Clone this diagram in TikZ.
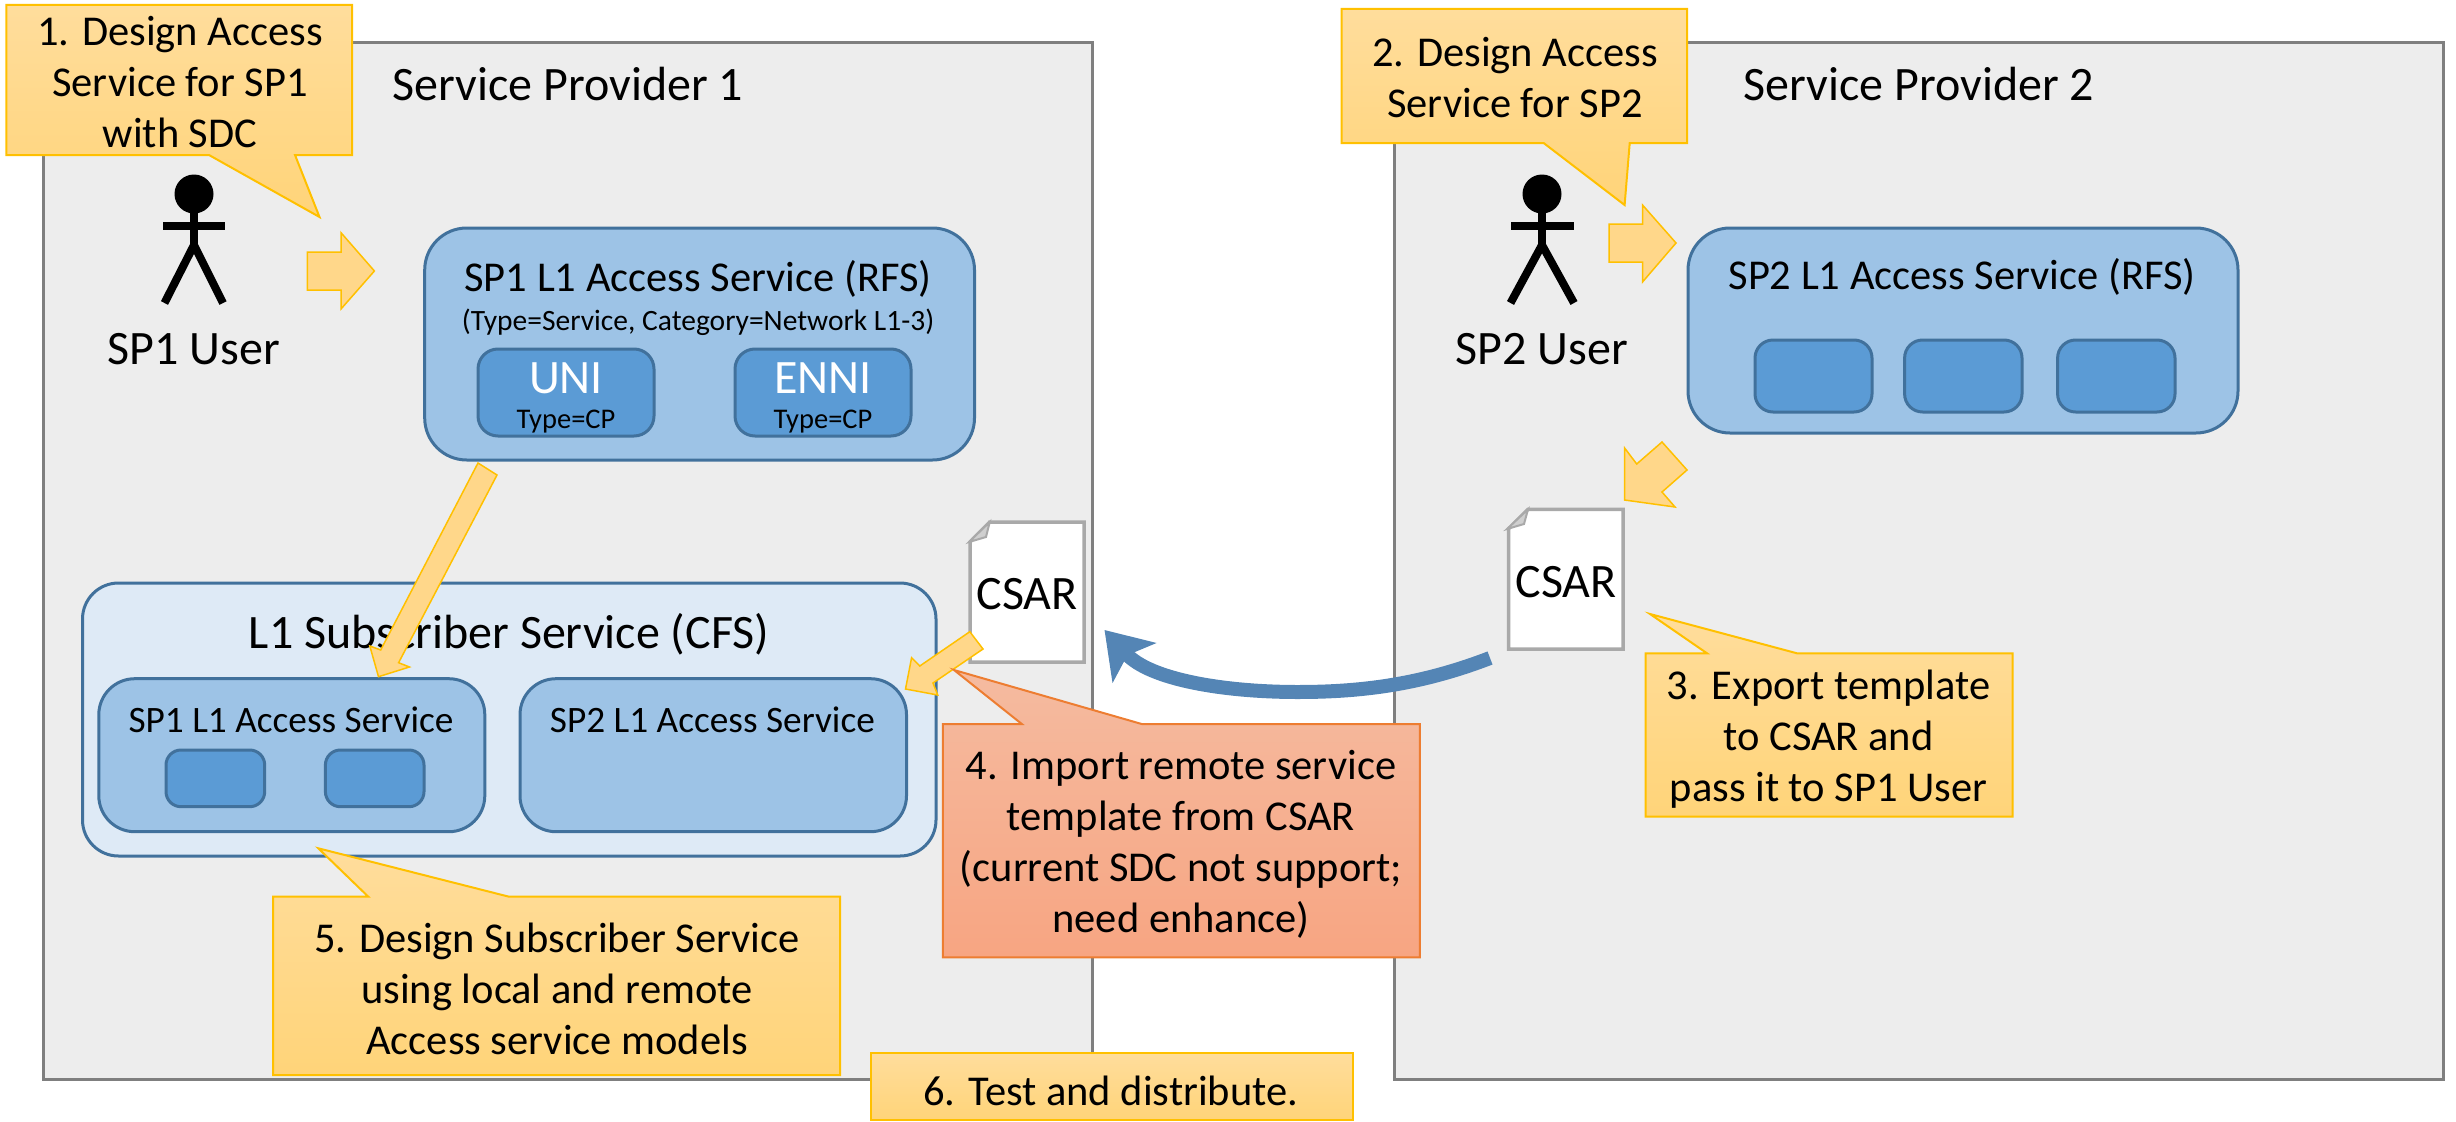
\documentclass[tikz,border=0pt]{standalone}
\usepackage{fontspec}
\setmainfont{Carlito}
\usetikzlibrary{arrows.meta,calc}
\definecolor{panelfill}{HTML}{EDEDED}
\definecolor{panelline}{HTML}{7F7F7F}
\definecolor{bluemid}{HTML}{9DC3E6}
\definecolor{bluedark}{HTML}{5B9BD5}
\definecolor{bluelight}{HTML}{DEEAF6}
\definecolor{blueedge}{HTML}{41719C}
\definecolor{yellowtop}{HTML}{FFDD9C}
\definecolor{yellowbot}{HTML}{FFD479}
\definecolor{yellowedge}{HTML}{FFC000}
\definecolor{yellowflat}{HTML}{FFD78A}
\definecolor{redtop}{HTML}{F5BBA0}
\definecolor{redbot}{HTML}{F7A582}
\definecolor{rededge}{HTML}{ED7D31}
\definecolor{flow}{HTML}{5485B5}
\definecolor{docline}{HTML}{A9A9A9}
\definecolor{docfold}{HTML}{CFCFCF}
\tikzset{
 x=1pt,y=-1pt,
 every node/.style={inner sep=0pt,outer sep=0pt,font=\fontsize{42.5}{51}\selectfont,align=center},
 panel/.style={draw=panelline,fill=panelfill,line width=3pt},
 rbox/.style={draw=blueedge,line width=3pt,rounded corners=#1},
 callout/.style={draw=yellowedge,line width=2pt,top color=yellowtop,bottom color=yellowbot,line join=miter},
 calloutred/.style={draw=rededge,line width=2pt,top color=redtop,bottom color=redbot,line join=miter},
 blockarrow/.style={draw=yellowedge,line width=1.5pt,fill=yellowflat,line join=miter},
 doc/.style={draw=docline,fill=white,line width=3.5pt,line join=miter},
 fold/.style={draw=docline,fill=docfold,line width=2pt,line join=miter},
 stick/.style={draw=black,line width=8pt},
 big/.style={font=\fontsize{48}{58}\selectfont},
 small/.style={font=\fontsize{29.5}{35}\selectfont},
 tiny/.style={font=\fontsize{28.5}{34}\selectfont},
 mid/.style={font=\fontsize{37.3}{45}\selectfont},
}
\begin{document}
\begin{tikzpicture}
\useasboundingbox (0,0) rectangle (2456,1121);
% panels
\node[panel,minimum width=1049pt,minimum height=1036pt] (sp1) at (568,561) {};
\node[panel,minimum width=1048.6pt,minimum height=1036pt] (sp2) at (1918.7,561) {};
\node[big] (sp1t) at (568,84) {Service Provider 1};
\node[big] (sp2t) at (1919,84) {Service Provider 2};
% SP1 RFS
\draw[rbox=42pt,fill=bluemid] (424.7,228) rectangle (974.5,460);
\node (rfs1t) at (698,279) {SP1 L1 Access Service (RFS)};
\node[small] (rfs1s) at (698,322) {(Type=Service, Category=Network L1-3)};
\draw[rbox=20pt,fill=bluedark] (478,349) rectangle (654,436);
\draw[rbox=20pt,fill=bluedark] (735,349) rectangle (911,436);
\node[big,text=white] (uni) at (566,378) {UNI};
\node[big,text=white] (enni) at (823,378) {ENNI};
\node[tiny] (unit) at (566,422) {Type=CP};
\node[tiny] (ennit) at (823,422) {Type=CP};
% SP2 RFS
\draw[rbox=42pt,fill=bluemid] (1688,228) rectangle (2238,433);
\node (rfs2t) at (1962,277) {SP2 L1 Access Service (RFS)};
\draw[rbox=18pt,fill=bluedark] (1755,340) rectangle (1872,412);
\draw[rbox=18pt,fill=bluedark] (1904.6,340) rectangle (2022,412);
\draw[rbox=18pt,fill=bluedark] (2057.6,340) rectangle (2175,412);
% CFS
\draw[rbox=36pt,fill=bluelight] (82.5,583) rectangle (936,856);
\node[big] (cfst) at (509,634) {L1 Subscriber Service (CFS)};
\draw[rbox=36pt,fill=bluemid] (98.8,678.7) rectangle (484.8,831.7);
\draw[rbox=36pt,fill=bluemid] (520,678.7) rectangle (906.5,831.7);
\node[mid] (a1) at (291,720) {SP1 L1 Access Service};
\node[mid] (a2) at (712.4,720) {SP2 L1 Access Service};
\draw[rbox=15pt,fill=bluedark] (166,750) rectangle (264.7,806.7);
\draw[rbox=15pt,fill=bluedark] (325.4,750) rectangle (424,806.7);
% users
\fill (194,194) circle (19.5);
\draw[stick] (194,213) -- (194,253);
\draw[stick] (163,226) -- (225,226);
\draw[stick] (164.5,303) -- (194,245) -- (223,303);
\node[big] (u1) at (194,349) {SP1 User};
\fill (1542,194) circle (19.5);
\draw[stick] (1542,213) -- (1542,253);
\draw[stick] (1511,226) -- (1574,226);
\draw[stick] (1510.5,303) -- (1542,245) -- (1574,303);
\node[big] (u2) at (1542,349) {SP2 User};
% documents
\draw[doc] (989.7,522) -- (1084,522) -- (1084,662) -- (970,662) -- (970,542) -- cycle;
\draw[fold] (989.7,522) -- (986,537) -- (969,542) -- cycle;
\node[big] (csar1) at (1027,594) {CSAR};
\draw[doc] (1528,509.3) -- (1623,509.3) -- (1623,649) -- (1508.5,649) -- (1508.5,529) -- cycle;
\draw[fold] (1528,509.3) -- (1524,524) -- (1507,529) -- cycle;
\node[big] (csar2) at (1566,582) {CSAR};
% block arrows
\draw[blockarrow] (307.4,252) -- (341,252) -- (341,232.7) -- (374.4,271) -- (341,309) -- (341,290) -- (307.4,290) -- cycle;
\draw[blockarrow] (1609,224) -- (1642.5,224) -- (1642.5,205) -- (1676,243) -- (1642.5,282) -- (1642.5,262) -- (1609,262) -- cycle;
\draw[blockarrow] (1662,442) -- (1687,470) -- (1662,492) -- (1675,507) -- (1624.5,500) -- (1624.6,448) -- (1636.7,464) -- cycle;
\draw[blockarrow] (478,463) -- (497,475) -- (398.6,662.7) -- (409.4,667) -- (378.5,676.7) -- (369.8,646) -- (380.7,650) -- cycle;
\draw[blockarrow] (969.8,631.7) -- (983,649) -- (933,683) -- (937.7,695) -- (905.5,689) -- (911.6,657.7) -- (919.8,666) -- cycle;
% curved arrow
\coordinate (flowa) at (1490,658);
\coordinate (flowm) at (1298,692);
\coordinate (flowb) at (1104.5,630);
\draw[flow,line width=14pt,-{Stealth[length=44pt,width=58pt,inset=10pt]}] (flowa) .. controls (1420,685) and (1360,692) .. (flowm) .. controls (1225,692) and (1150,680) .. (flowb);
% callouts
\draw[callout] (6.4,5) -- (352,5) -- (352,155) -- (295,155) -- (319.5,217) -- (209,155) -- (6.4,155) -- cycle;
\node (c1) at (180,82) {1. Design Access\\Service for SP1\\with SDC};
\draw[callout] (1341.5,9) -- (1687,9) -- (1687,143) -- (1629.7,143) -- (1624.6,205) -- (1543.6,143) -- (1341.5,143) -- cycle;
\node (c2) at (1515,78) {2. Design Access\\Service for SP2};
\draw[callout] (1645.5,653.3) -- (1707,653.3) -- (1650,614) -- (1797,653.3) -- (2012.5,653.3) -- (2012.5,816.7) -- (1645.5,816.7) -- cycle;
\node (c3) at (1828.6,739) {3. Export template\\to CSAR and\\pass it to SP1 User};
\draw[calloutred] (942.8,724) -- (1021.8,724) -- (954,670) -- (1141.7,724) -- (1419.8,724) -- (1419.8,957.3) -- (942.8,957.3) -- cycle;
\node (c4) at (1181,844.5) {4. Import remote service\\template from CSAR\\(current SDC not support;\\need enhance)};
\draw[callout] (273,896.7) -- (368.3,896.7) -- (318.3,848.3) -- (509,896.7) -- (840,896.7) -- (840,1075) -- (273,1075) -- cycle;
\node (c5) at (557,988.5) {5. Design Subscriber Service\\using local and remote\\Access service models};
\draw[callout] (870.7,1052.7) rectangle (1352.6,1120);
\node (c6) at (1110.6,1090.5) {6. Test and distribute.};
\end{tikzpicture}
\end{document}
